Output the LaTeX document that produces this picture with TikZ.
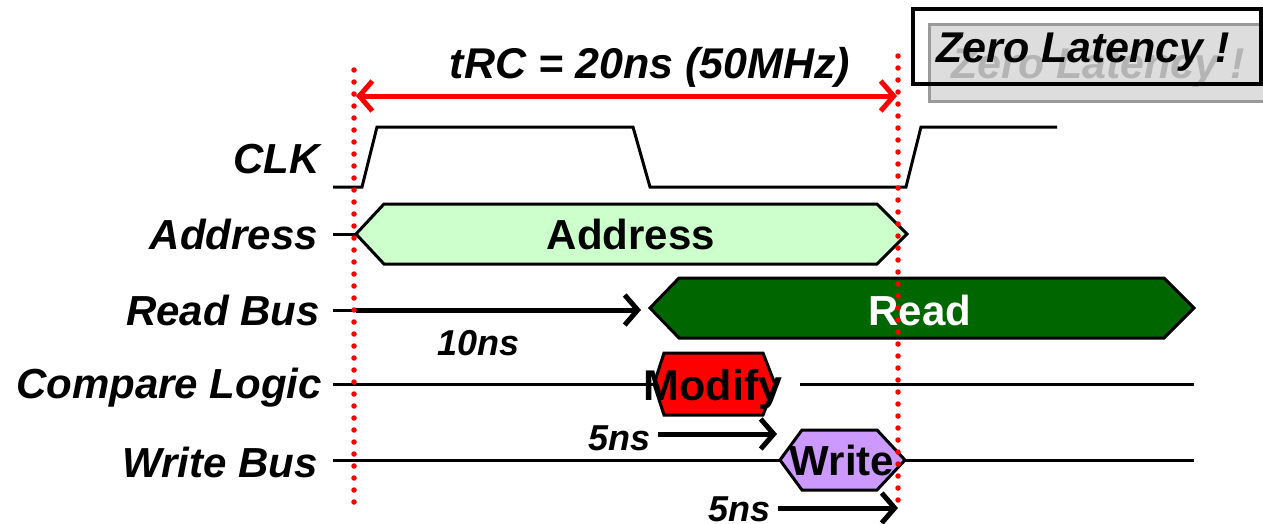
\documentclass[tikz,border=0pt]{standalone}
\usepackage{fontspec}
\setmainfont{Liberation Sans}
\usetikzlibrary{arrows.meta}
\definecolor{addrfill}{HTML}{CCFFCC}
\definecolor{readfill}{HTML}{006600}
\definecolor{modfill}{HTML}{FF0000}
\definecolor{writefill}{HTML}{CC99FF}
\definecolor{shadowfill}{HTML}{DDDDDD}
\definecolor{shadowedge}{HTML}{9A9A9A}
\definecolor{shadowtext}{HTML}{B4B4B4}
\begin{document}
\begin{tikzpicture}[x=1pt,y=-1pt,
  lbl/.style={font=\fontsize{42}{48}\selectfont\bfseries\itshape, anchor=base east, inner sep=0pt},
  boxtxt/.style={font=\fontsize{42}{48}\selectfont\bfseries, anchor=base, inner sep=0pt},
  nstxt/.style={font=\fontsize{36}{42}\selectfont\bfseries\itshape, anchor=base west, inner sep=0pt},
  wave/.style={line width=3pt, line join=miter},
  hexa/.style={draw=black, line width=3pt, line join=miter},
  timearrow/.style={line width=5pt, -{Straight Barb[length=13pt,width=30pt]}},
  redarrow/.style={red, line width=5pt, {Straight Barb[length=13pt,width=30pt]}-{Straight Barb[length=13pt,width=30pt]}},
  reddots/.style={red, line width=5.5pt, line cap=round, dash pattern=on 0pt off 12pt}
]
\useasboundingbox (0,0) rectangle (1263,523);

% Zero latency box
\draw[shadowedge, line width=3pt, fill=shadowfill] (929,24) rectangle (1268,101);
\node[font=\fontsize{43}{48}\selectfont\bfseries\itshape, text=shadowtext, anchor=base west, inner sep=0pt] (zlshadow) at (951,78) {Zero Latency !};
\draw[black, line width=4pt] (913,9) rectangle (1261,84);
\node[font=\fontsize{43}{48}\selectfont\bfseries\itshape, anchor=base west, inner sep=0pt] (zl) at (936,62) {Zero Latency !};

% title
\node[font=\fontsize{43}{50}\selectfont\bfseries\itshape, anchor=base, inner sep=0pt] (trc) at (650,78) {tRC = 20ns (50MHz)};
\coordinate (tl) at (356,96);
\coordinate (tr) at (897,96);
\draw[redarrow] (tl) -- (tr);

% labels
\node[lbl] (lclk) at (320,173) {CLK};
\node[lbl] (laddr) at (318,249) {Address};
\node[lbl] (lread) at (320,325) {Read Bus};
\node[lbl] (lcmp) at (322,398) {Compare Logic};
\node[lbl] (lwrite) at (318,477) {Write Bus};

% CLK waveform
\draw[wave] (333,187) -- (362,187) -- (377,127) -- (633,127) -- (650,187) -- (906,187) -- (921,127) -- (1057,127);

% Address
\draw[wave] (333,234) -- (356,234);
\draw[hexa, fill=addrfill] (356,234) -- (384,204) -- (877,204) -- (907,234) -- (877,264) -- (384,264) -- cycle;
\node[boxtxt] (taddr) at (631,249) {Address};

% Read bus
\coordinate (rs) at (356,310);
\coordinate (re) at (641,310);
\draw[wave] (333,310) -- (rs);
\draw[hexa, fill=readfill] (650,308) -- (679,278) -- (1164,278) -- (1194,308) -- (1164,338) -- (679,338) -- cycle;
\draw[timearrow] (rs) -- (re);
\node[nstxt] (t10) at (437,355) {10ns};
\node[boxtxt, text=white] (tread) at (920,325) {Read};

% Compare logic
\draw[wave] (333,384) -- (655,384);
\draw[wave] (800,384) -- (1194,384);
\draw[hexa, fill=modfill] (654,384) -- (664,353) -- (763,353) -- (775,384) -- (763,415) -- (664,415) -- cycle;
\node[font=\fontsize{43}{48}\selectfont\bfseries, anchor=base, inner sep=0pt] (tmod) at (713,400) {Modify};
\coordinate (m1) at (658,434);
\coordinate (m2) at (777,434);
\draw[timearrow] (m1) -- (m2);
\node[nstxt] (t5a) at (588,450) {5ns};

% Write bus
\draw[wave] (333,460) -- (780,460);
\draw[wave] (905,460) -- (1194,460);
\draw[hexa, fill=writefill] (780,460) -- (802,430) -- (877,430) -- (905,460) -- (877,490) -- (802,490) -- cycle;
\node[boxtxt] (twrite) at (842,475) {Write};
\coordinate (w1) at (778,508);
\coordinate (w2) at (898,508);
\draw[timearrow] (w1) -- (w2);
\node[nstxt] (t5b) at (708,521) {5ns};

% red dotted markers
\coordinate (d1t) at (354,70);
\coordinate (d1b) at (354,503);
\coordinate (d2t) at (898,56);
\coordinate (d2b) at (898,510);
\draw[reddots] (d1t) -- (d1b);
\draw[reddots] (d2t) -- (d2b);
\end{tikzpicture}
\end{document}
